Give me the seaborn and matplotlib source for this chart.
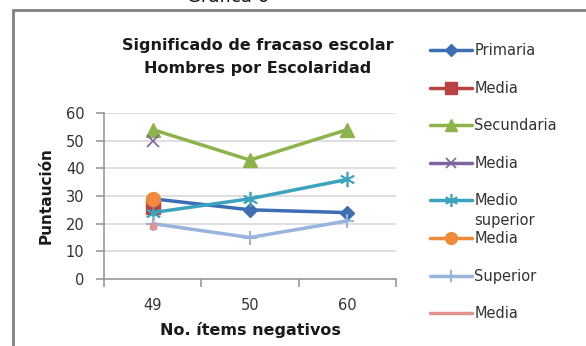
import matplotlib
matplotlib.use("Agg")
import matplotlib.pyplot as plt
from matplotlib.lines import Line2D
import seaborn as sns
import pandas as pd

sns.set_theme(style="white")
plt.rcParams["font.family"] = ["DejaVu Sans"]

# Categories on the x axis
categories = ["49", "50", "60"]

# Series values (None where a series has no point)
primaria = [29, 25, 24]
media_primaria = [26, None, None]
secundaria = [54, 43, 54]
media_secundaria = [50, None, None]
medio_superior = [24, 29, 36]
media_medio_superior = [29, None, None]
superior = [20, 15, 21]
media_superior = [19, None, None]

series_names = ["Primaria", "Media", "Secundaria", "Media", "Medio superior",
                "Media", "Superior", "Media"]
series_values = [primaria, media_primaria, secundaria, media_secundaria,
                 medio_superior, media_medio_superior, superior, media_superior]

colors = ["#3D6DB3", "#B94340", "#8DB34A", "#8064A2", "#3BA3BE",
          "#EE8A3A", "#98B3DC", "#E29491"]
markers = ["D", "s", "^", "x", (6, 2, 0), "o", "+", "s"]
msizes = [7, 10, 10, 9, 11, 10, 10, 5]
mews = [1, 1, 1, 1.2, 1.2, 1, 1.5, 1]

fig = plt.figure(figsize=(5.86, 3.46), dpi=100)
ax = fig.add_axes([104 / 586, 1 - 279 / 346, 292 / 586, 166 / 346])

for i, (name, vals) in enumerate(zip(series_names, series_values)):
    df = pd.DataFrame({"pos": range(len(categories)), "val": vals}).dropna()
    sns.lineplot(data=df, x="pos", y="val", ax=ax, color=colors[i],
                 marker=markers[i], markersize=msizes[i],
                 markeredgewidth=mews[i], markeredgecolor=colors[i],
                 linewidth=2.5, legend=False, zorder=3 + (i == 5))

ax.set_xlim(-0.5, len(categories) - 0.5)
ax.set_ylim(0, 60)
ax.set_yticks(range(0, 61, 10))
ax.set_xticks(range(len(categories)))
ax.set_xticklabels(categories)
ax.set_xticks([k - 0.5 for k in range(len(categories) + 1)], minor=True)

ax.grid(axis="y", color="#D9D9D9", linewidth=1.2)
ax.grid(axis="x", visible=False)
for s in ["top", "right"]:
    ax.spines[s].set_visible(False)
for s in ["left", "bottom"]:
    ax.spines[s].set_color("#9A9A9A")
    ax.spines[s].set_linewidth(1.2)

ax.tick_params(axis="y", which="major", direction="out", length=6, width=1.2,
               color="#9A9A9A", labelsize=10.5, labelcolor="#333333", pad=8,
               left=True)
ax.tick_params(axis="x", which="major", length=0, labelsize=10.5,
               labelcolor="#333333", pad=14)
ax.tick_params(axis="x", which="minor", direction="out", length=6, width=1.2,
               color="#9A9A9A", bottom=True)

ax.set_xlabel("No. ítems negativos", fontsize=11.5, fontweight="bold",
              color="#1A1A1A", labelpad=6)
ax.set_ylabel("Puntaución", fontsize=11, fontweight="bold",
              color="#1A1A1A", labelpad=9)

# Title
fig.text(258 / 586, 1 - 57 / 346,
         "Significado de fracaso escolar\nHombres por Escolaridad",
         ha="center", va="center", fontsize=11.5, fontweight="bold",
         color="#1A1A1A", linespacing=1.7)

# Caption above the chart frame
fig.text(228 / 586, 1 + 3 / 346, "Gráfica 6", ha="center", va="center",
         fontsize=13, color="#111111")

# Chart frame
fig.add_artist(Line2D([13 / 586, 13 / 586], [0, 1 - 10 / 346],
                      transform=fig.transFigure, color="#808080", linewidth=2))
fig.add_artist(Line2D([13 / 586, 1], [1 - 10 / 346, 1 - 10 / 346],
                      transform=fig.transFigure, color="#808080", linewidth=2))

# Legend
legend_labels = ["Primaria", "Media", "Secundaria", "Media", "Medio",
                 "Media", "Superior", "Media"]
handles = []
for i in range(len(series_names)):
    mk = None if i == 7 else markers[i]
    handles.append(Line2D([], [], color=colors[i], linewidth=2.5, marker=mk,
                          markersize=msizes[i] * 0.85,
                          markeredgewidth=mews[i], markeredgecolor=colors[i]))
leg = fig.legend(handles, legend_labels, loc="upper left",
                 bbox_to_anchor=(430 / 586, 1 - 43 / 346), frameon=False,
                 fontsize=10.5, handlelength=2.85, handletextpad=0.2,
                 labelspacing=1.55, borderpad=0, borderaxespad=0)
for t in leg.get_texts():
    t.set_color("#333333")

fig.canvas.draw()
tb = leg.get_texts()[4].get_window_extent()
fig.text(tb.x0 / fig.bbox.width, (tb.y0 - 5) / fig.bbox.height, "superior",
         ha="left", va="top", fontsize=10.5, color="#333333")

fig.savefig("out.png", dpi=100)
